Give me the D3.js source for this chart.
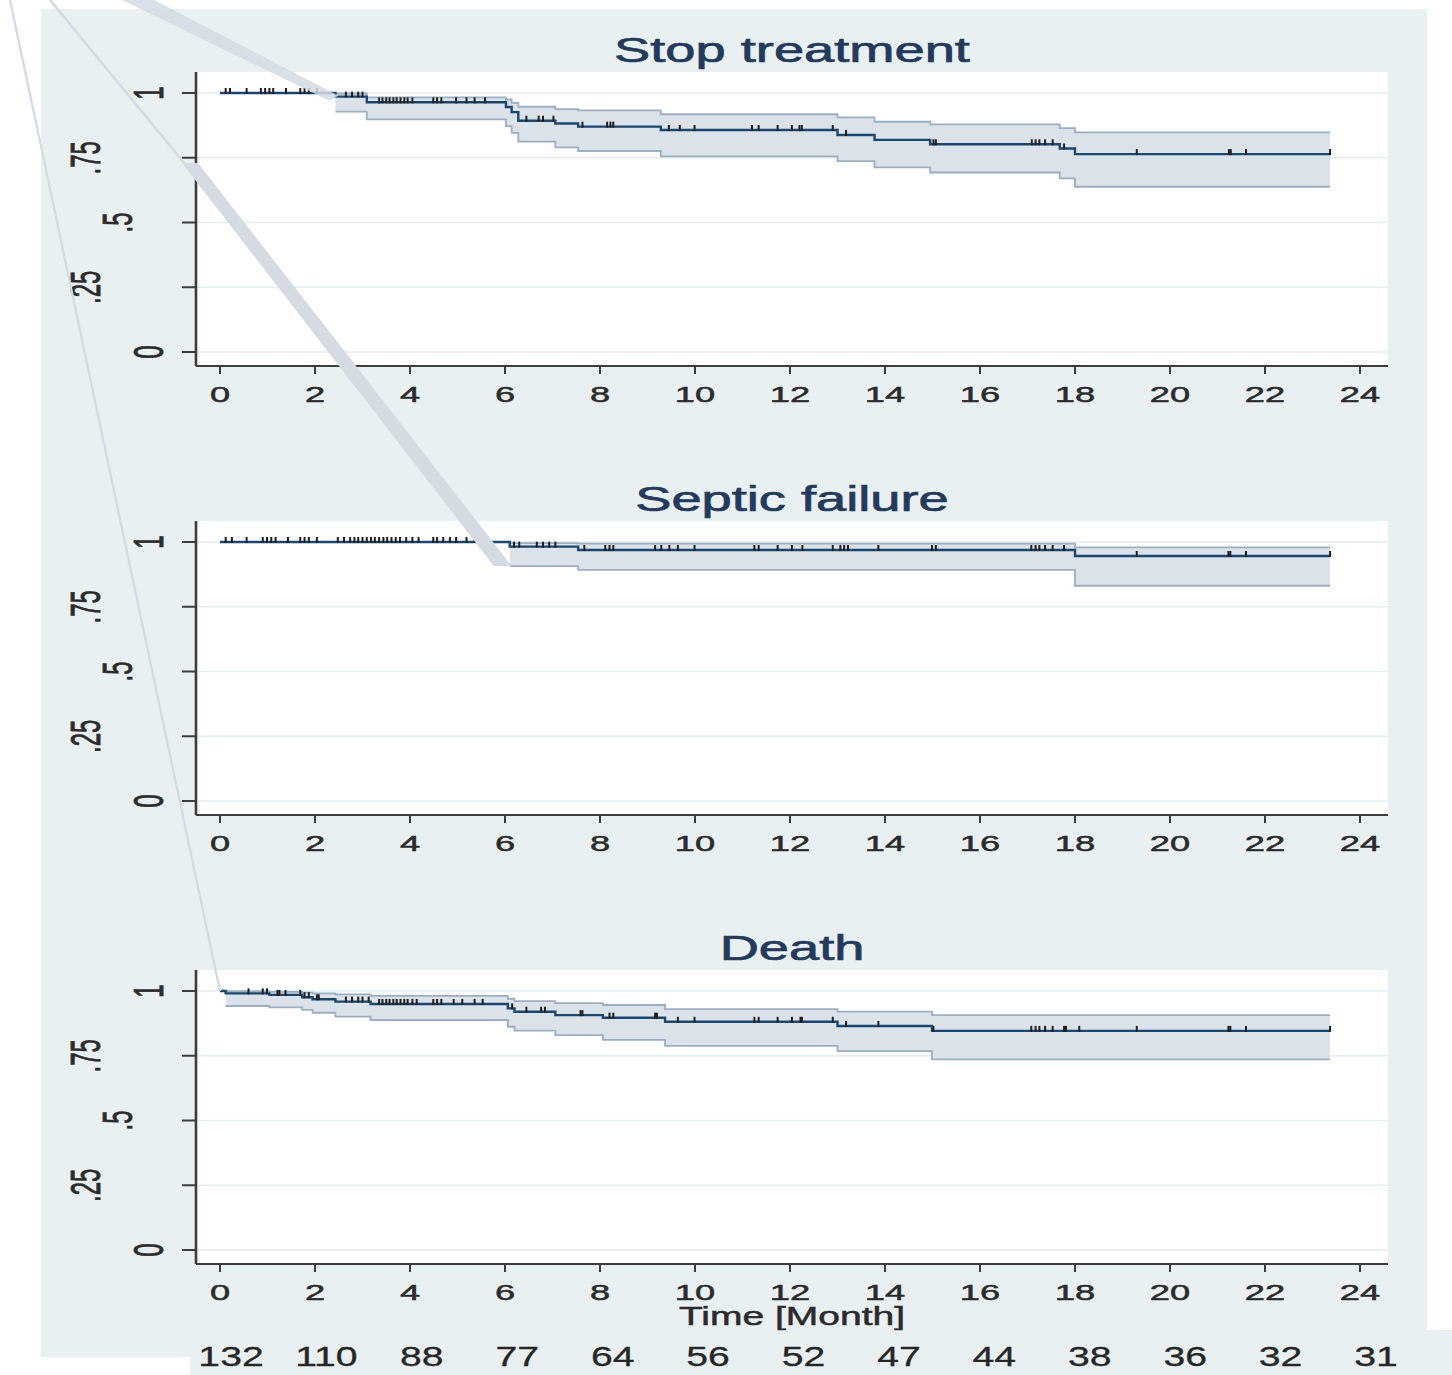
<!DOCTYPE html>
<html><head><meta charset="utf-8">
<script src="https://cdn.jsdelivr.net/npm/d3@7"></script>
<style>body{margin:0;background:#fff;} svg{display:block;}</style>
</head><body>
<svg id="chart" width="1452" height="1375"></svg>
<script>
// ---------------- data ----------------
const panelTitles = ["Stop treatment", "Septic failure", "Death"];
const xTicks = [0, 2, 4, 6, 8, 10, 12, 14, 16, 18, 20, 22, 24];
const yTicks = [0, 0.25, 0.5, 0.75, 1];
const yTickLabels = ["0", ".25", ".5", ".75", "1"];
const xAxisTitle = "Time [Month]";
const riskTimes = [0, 2, 4, 6, 8, 10, 12, 14, 16, 18, 20, 22, 24];
const atRisk = [132, 110, 88, 77, 64, 56, 52, 47, 44, 38, 36, 32, 31];
const endTime = 23.37;

// Stop treatment
const stopTimes = [0, 2.43, 3.09, 6.02, 6.14, 6.28, 7.06, 7.54, 9.28, 13.0, 13.78, 14.95, 17.68, 18.0];
const stopSurv  = [1, 0.986, 0.964, 0.946, 0.926, 0.893, 0.882, 0.870, 0.857, 0.838, 0.819, 0.802, 0.786, 0.764];
const stopUpper = [1, 0.998, 0.983, 0.975, 0.962, 0.947, 0.938, 0.933, 0.918, 0.906, 0.889, 0.879, 0.864, 0.848];
const stopLower = [1, 0.928, 0.898, 0.872, 0.846, 0.812, 0.790, 0.776, 0.755, 0.737, 0.713, 0.693, 0.670, 0.638];
const stopCensor = [0.12, 0.21, 0.56, 0.86, 0.95, 1.04, 1.12, 1.39, 1.69, 1.78, 1.87, 2.04, 2.65, 2.78, 2.91, 3.0,
  3.35, 3.42, 3.5, 3.57, 3.65, 3.72, 3.8, 3.88, 3.95, 4.05, 4.49, 4.57, 4.66, 4.97, 5.19, 5.36, 5.58,
  6.45, 6.71, 6.80, 7.02, 7.63, 8.15, 8.22, 8.28, 9.45, 9.68, 9.99, 11.2, 11.34, 11.74, 12.04, 12.2, 12.25,
  12.9, 13.18, 15.02, 15.07, 17.09, 17.17, 17.25, 17.37, 17.53, 17.77, 19.30, 21.24, 21.28, 21.6, 23.37];

// Septic failure
const septicTimes = [0, 6.1, 7.54, 18.0];
const septicSurv  = [1, 0.982, 0.969, 0.946];
const septicUpper = [1, 0.996, 0.994, 0.979];
const septicLower = [1, 0.907, 0.892, 0.831];
const septicCensor = [0.12, 0.25, 0.56, 0.90, 0.99, 1.08, 1.17, 1.43, 1.69, 1.78, 1.87, 2.04,
  2.48, 2.61, 2.74, 2.83, 2.91, 3.0, 3.09, 3.18, 3.26, 3.35, 3.44, 3.52, 3.61, 3.7, 3.79, 3.92, 4.05, 4.18,
  4.49, 4.57, 4.70, 4.84, 4.97, 5.19, 5.36, 5.58, 6.19, 6.3, 6.67, 6.8, 6.93, 7.06, 7.67, 8.11, 8.2, 8.28,
  9.16, 9.29, 9.46, 9.64, 9.99, 11.25, 11.34, 11.74, 12.04, 12.26, 12.9, 13.06, 13.14, 13.22, 13.86,
  14.99, 15.07, 17.08, 17.17, 17.25, 17.37, 17.53, 17.77, 19.3, 21.23, 21.27, 21.6, 23.37];

// Death
const deathTimes = [0, 0.12, 1.04, 1.73, 1.95, 2.43, 3.17, 6.06, 6.2, 7.06, 8.06, 9.37, 13.0, 14.99];
const deathSurv  = [1, 0.991, 0.985, 0.976, 0.968, 0.959, 0.950, 0.933, 0.920, 0.907, 0.897, 0.881, 0.865, 0.846];
const deathUpper = [1, 0.999, 0.997, 0.994, 0.991, 0.987, 0.981, 0.970, 0.961, 0.953, 0.946, 0.930, 0.920, 0.907];
const deathLower = [1, 0.942, 0.937, 0.927, 0.916, 0.901, 0.888, 0.862, 0.847, 0.830, 0.811, 0.788, 0.768, 0.736];
const deathCensor = [0.60, 0.90, 0.99, 1.21, 1.25, 1.38, 1.69, 1.78, 1.87, 2.04, 2.08, 2.65, 2.78, 2.91, 3.0, 3.13,
  3.35, 3.42, 3.5, 3.57, 3.65, 3.72, 3.8, 3.88, 3.95, 4.05, 4.14, 4.49, 4.57, 4.66, 4.92, 5.1, 5.36, 5.53,
  6.15, 6.45, 6.76, 6.84, 7.59, 7.63, 8.2, 8.28, 9.16, 9.2, 9.64, 9.99, 11.25, 11.34, 11.74, 12.04, 12.22,
  12.25, 12.9, 13.18, 13.86, 15.02, 17.08, 17.17, 17.25, 17.37, 17.53, 17.77, 17.81, 18.09, 19.3,
  21.23, 21.27, 21.6, 23.37];

const panels = [
  {title: panelTitles[0], times: stopTimes, surv: stopSurv, upper: stopUpper, lower: stopLower, censor: stopCensor},
  {title: panelTitles[1], times: septicTimes, surv: septicSurv, upper: septicUpper, lower: septicLower, censor: septicCensor},
  {title: panelTitles[2], times: deathTimes, surv: deathSurv, upper: deathUpper, lower: deathLower, censor: deathCensor}
];

// ---------------- layout / style ----------------
const W = 1452, H = 1375;
const BG = "#e9f0f2";
const FONT = "'Liberation Sans', Arial, sans-serif";
const plotLeft = 196, plotRight = 1388, plotH = 294;
const panelTops = [72, 521, 970];
const x = d3.scaleLinear().domain([0, 24]).range([220, 1360]);
const riskX = d3.scaleLinear().domain([0, 24]).range([231, 1376]);

const svg = d3.select("#chart");

// background
svg.append("rect").attr("x", 0).attr("y", 0).attr("width", W).attr("height", H).attr("fill", "#fff");
svg.append("rect").attr("x", 41).attr("y", 9).attr("width", 1386).attr("height", 1348).attr("fill", BG);
svg.append("rect").attr("x", 190).attr("y", 1330).attr("width", 1262).attr("height", 45).attr("fill", BG);

function stretchedText(g, tx, ty, txt, size, sx, opts = {}) {
  const fill = opts.fill || "#2b2b2b";
  const t = g.append("text")
    .attr("transform", `translate(${tx},${ty}) scale(${sx},1)` + (opts.rotate ? ` rotate(${opts.rotate})` : ""))
    .attr("text-anchor", opts.anchor || "middle")
    .attr("font-family", FONT)
    .attr("font-size", size)
    .attr("fill", fill)
    .attr("stroke", fill)
    .attr("stroke-width", opts.sw || 0.5)
    .text(txt);
  return t;
}

function stepPoints(times, vals, from) {
  const pts = [];
  for (let i = from; i < times.length; i++) pts.push([times[i], vals[i]]);
  pts.push([endTime, vals[vals.length - 1]]);
  return pts;
}

const yScales = [];
panels.forEach((p, pi) => {
  const top = panelTops[pi];
  const y = d3.scaleLinear().domain([0, 1]).range([top + 280, top + 21]);
  yScales.push(y);
  const g = svg.append("g");

  // plot region
  g.append("rect").attr("x", plotLeft).attr("y", top).attr("width", plotRight - plotLeft).attr("height", plotH).attr("fill", "#fff");

  // grid
  g.selectAll(".grid").data(yTicks).join("line")
    .attr("x1", plotLeft).attr("x2", plotRight)
    .attr("y1", d => y(d)).attr("y2", d => y(d))
    .attr("stroke", "#e4edf0").attr("stroke-width", 1.5);

  // title
  stretchedText(g, 792, top - 10, p.title, 35, 1.55, {fill: "#233a5c", sw: 0.7});

  // CI band
  const bandData = p.times.map((t, i) => ({t, lo: p.lower[i], hi: p.upper[i]})).slice(1);
  bandData.push({t: endTime, lo: p.lower[p.lower.length - 1], hi: p.upper[p.upper.length - 1]});
  g.append("path").datum(bandData)
    .attr("d", d3.area().curve(d3.curveStepAfter).x(d => x(d.t)).y0(d => y(d.lo)).y1(d => y(d.hi)))
    .attr("fill", "#dce2e9");
  const edge = d3.line().curve(d3.curveStepAfter).x(d => x(d[0])).y(d => y(d[1]));
  g.append("path").datum(stepPoints(p.times, p.upper, 1)).attr("d", edge)
    .attr("fill", "none").attr("stroke", "#9cafc2").attr("stroke-width", 1.8);
  g.append("path").datum(stepPoints(p.times, p.lower, 1)).attr("d", edge)
    .attr("fill", "none").attr("stroke", "#9cafc2").attr("stroke-width", 1.8);

  // survival curve
  g.append("path").datum(stepPoints(p.times, p.surv, 0)).attr("d", edge)
    .attr("fill", "none").attr("stroke", "#1a476f").attr("stroke-width", 2.4);

  // censor marks
  const survAt = t => { let v = p.surv[0]; p.times.forEach((tt, i) => { if (tt <= t) v = p.surv[i]; }); return v; };
  g.selectAll(".cens").data(p.censor).join("line")
    .attr("x1", d => x(d)).attr("x2", d => x(d))
    .attr("y1", d => y(survAt(d)) - 5).attr("y2", d => y(survAt(d)) + 1)
    .attr("stroke", "#1e1e1e").attr("stroke-width", 2);

  // y axis
  g.append("line").attr("x1", plotLeft).attr("x2", plotLeft).attr("y1", top).attr("y2", top + plotH)
    .attr("stroke", "#3c3c3c").attr("stroke-width", 2.6);
  g.selectAll(".ytick").data(yTicks).join("line")
    .attr("x1", plotLeft - 14).attr("x2", plotLeft).attr("y1", d => y(d)).attr("y2", d => y(d))
    .attr("stroke", "#3c3c3c").attr("stroke-width", 2);
  yTicks.forEach((v, i) => {
    const lab = yTickLabels[i];
    stretchedText(g, 163 - (lab.length - 1) * 31.5, y(v), lab, 24, 1.75, {rotate: -90});
  });

  // x axis
  g.append("line").attr("x1", plotLeft).attr("x2", plotRight).attr("y1", top + plotH).attr("y2", top + plotH)
    .attr("stroke", "#3c3c3c").attr("stroke-width", 2.2);
  g.selectAll(".xtick").data(xTicks).join("line")
    .attr("x1", d => x(d)).attr("x2", d => x(d)).attr("y1", top + plotH).attr("y2", top + plotH + 8)
    .attr("stroke", "#3c3c3c").attr("stroke-width", 2);
  xTicks.forEach(v => stretchedText(g, x(v), top + plotH + 36, String(v), 22, 1.65));
});

// axis title and number at risk
stretchedText(svg, 792, 1325, xAxisTitle, 26, 1.5);
atRisk.forEach((n, i) => stretchedText(svg, riskX(riskTimes[i]), 1366, String(n), 27, 1.45, {fill: "#262626", sw: 0.3}));

// presentation callout lines (decorative), ending on chart features
const callout = svg.append("g").attr("fill", "#d4dbe3").attr("stroke", "none");
const e1 = [x(deathTimes[0]), yScales[2](deathSurv[0])];
callout.append("line").attr("x1", 10).attr("y1", 0).attr("x2", e1[0]).attr("y2", e1[1])
  .attr("stroke", "#d3dae2").attr("stroke-width", 2.2);
const e2 = [x(septicTimes[1]), yScales[1](septicLower[1])];
callout.append("line").attr("x1", 50).attr("y1", 0).attr("x2", 190).attr("y2", 170)
  .attr("stroke", "#d3dae2").attr("stroke-width", 2.5);
callout.append("path").attr("d", `M${182},${163} L${198},${163} L${e2[0] + 2},${e2[1]} L${e2[0] - 16},${e2[1]} Z`);
const e3 = [x(stopTimes[1]), yScales[0](stopSurv[1])];
callout.append("path").attr("d", `M122,0 L154,0 L${e3[0] + 3},${e3[1] - 1} L${e3[0] - 6},${e3[1] + 4} Z`)
  .attr("opacity", 0.85);
</script>
</body></html>
